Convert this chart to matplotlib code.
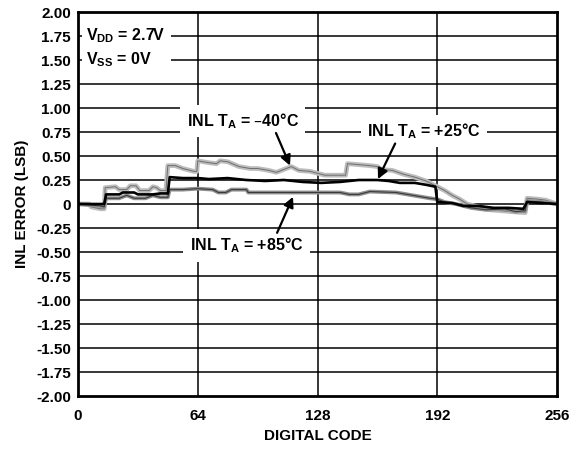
import numpy as np
import matplotlib.pyplot as plt

plt.rcParams['font.family'] = ['Liberation Sans', 'DejaVu Sans']
plt.rcParams['font.weight'] = 'bold'
plt.rcParams['mathtext.default'] = 'regular'

# INL curves (digital code, error in LSB)
code_m40 = [0, 6, 7, 12, 14, 14.5, 20, 22, 26, 28, 31, 33, 38, 40, 42, 44, 47, 48, 52, 56, 62, 63.5,
            64, 70, 74, 76, 80, 86, 92, 96, 102, 106, 110, 114, 118, 124, 128, 132, 143, 144, 150,
            156, 160, 162, 168, 174, 180, 186, 192, 196, 200, 204, 208, 214, 220, 226, 232, 239,
            240, 246, 250, 256]
inl_m40 = [0.0, 0.0, -0.03, -0.05, -0.05, 0.17, 0.18, 0.15, 0.15, 0.19, 0.19, 0.14, 0.14, 0.18, 0.17,
           0.14, 0.14, 0.40, 0.40, 0.37, 0.34, 0.34, 0.45, 0.43, 0.42, 0.45, 0.44, 0.39, 0.37, 0.37,
           0.35, 0.33, 0.36, 0.39, 0.35, 0.34, 0.32, 0.30, 0.30, 0.42, 0.41, 0.40, 0.39, 0.36, 0.35,
           0.31, 0.28, 0.24, 0.18, 0.14, 0.09, 0.05, 0.0, -0.03, -0.06, -0.07, -0.08, -0.09, 0.06,
           0.05, 0.04, 0.0]

code_25 = [0, 14, 15, 22, 24, 30, 32, 40, 44, 48, 49, 56, 64, 70, 80, 90, 100, 110, 120, 130, 140,
           150, 160, 166, 172, 180, 186, 191, 192, 200, 206, 214, 222, 230, 238, 240, 248, 256]
inl_25 = [0.0, 0.0, 0.10, 0.10, 0.12, 0.12, 0.10, 0.10, 0.11, 0.11, 0.28, 0.27, 0.27, 0.26, 0.27,
          0.25, 0.24, 0.25, 0.23, 0.22, 0.23, 0.25, 0.25, 0.24, 0.22, 0.22, 0.20, 0.18, 0.02, 0.01,
          -0.02, -0.02, -0.04, -0.04, -0.05, 0.02, 0.01, 0.0]

code_85 = [0, 12, 14, 15, 22, 26, 30, 36, 40, 44, 48, 49, 56, 64, 72, 75, 79, 82, 90, 91, 110, 130,
           140, 145, 150, 156, 170, 176, 182, 188, 192, 196, 202, 210, 218, 228, 234, 239, 240, 248, 256]
inl_85 = [0.0, -0.02, -0.03, 0.06, 0.06, 0.09, 0.06, 0.06, 0.09, 0.07, 0.07, 0.15, 0.15, 0.16, 0.15,
          0.12, 0.12, 0.15, 0.15, 0.12, 0.12, 0.12, 0.12, 0.10, 0.10, 0.13, 0.12, 0.10, 0.08, 0.06,
          0.05, 0.02, 0.0, -0.04, -0.06, -0.05, -0.08, -0.07, 0.03, 0.02, 0.0]

x_ticks = [0, 64, 128, 192, 256]
y_ticks = np.arange(-2.0, 2.01, 0.25)
y_labels = ['0' if abs(v) < 1e-9 else '%.2f' % v for v in y_ticks]

fig = plt.figure(figsize=(5.72, 4.5), dpi=100)
ax = fig.add_axes([0.1364, 0.12, 0.8374, 0.8533])

# grid
for v in y_ticks[1:-1]:
    ax.axhline(v, color='black', lw=1.1, zorder=1)
for v in x_ticks[1:-1]:
    ax.axvline(v, color='black', lw=1.1, zorder=1)

# curves
ax.plot(code_m40, inl_m40, color='#bdbdbd', lw=3.4, zorder=3)
ax.plot(code_m40, inl_m40, color='#6e6e6e', lw=0.7, zorder=3)
ax.plot(code_85, inl_85, color='#909090', lw=2.8, zorder=4)
ax.plot(code_85, inl_85, color='#3a3a3a', lw=0.8, zorder=4)
ax.plot(code_25, inl_25, color='black', lw=1.9, zorder=5)

box = dict(boxstyle='square,pad=0.4', fc='white', ec='none')
fs = 11.5

ax.text(4.5, 1.63, 'V$_{DD}$ = 2.7V \nV$_{SS}$ = 0V', ha='left', va='center', fontsize=fs,
        fontweight='bold', linespacing=1.4, zorder=6,
        bbox=dict(boxstyle='square,pad=0.3', fc='white', ec='none'))

arrow = dict(arrowstyle='-|>', color='black', lw=1.6, mutation_scale=15, shrinkA=0, shrinkB=0)

ax.text(88, 0.865, 'INL T$_A$ = \u201340\u00b0C', ha='center', va='center', fontsize=fs,
        fontweight='bold', zorder=6, bbox=box)
ax.annotate('', xy=(113.3, 0.40), xytext=(105.8, 0.74), arrowprops=arrow, zorder=7)

ax.text(185, 0.76, 'INL T$_A$ = +25\u00b0C', ha='center', va='center', fontsize=fs,
        fontweight='bold', zorder=6, bbox=box)
ax.annotate('', xy=(160.3, 0.26), xytext=(169.5, 0.63), arrowprops=arrow, zorder=7)

ax.text(90, -0.43, 'INL T$_A$ = +85\u00b0C', ha='center', va='center', fontsize=fs,
        fontweight='bold', zorder=6, bbox=box)
ax.annotate('', xy=(114.9, 0.075), xytext=(106.4, -0.30), arrowprops=arrow, zorder=7)

ax.set_xlim(0, 256)
ax.set_ylim(-2.0, 2.0)
ax.set_xticks(x_ticks)
ax.set_yticks(y_ticks)
ax.set_yticklabels(y_labels)
ax.tick_params(length=0, labelsize=11)
ax.tick_params(axis='x', pad=9)
ax.tick_params(axis='y', pad=5)
for lab in ax.get_xticklabels() + ax.get_yticklabels():
    lab.set_fontweight('bold')
for s in ax.spines.values():
    s.set_linewidth(2)
    s.set_zorder(8)

ax.set_xlabel('DIGITAL CODE', fontsize=11, fontweight='bold', labelpad=5)
ax.set_ylabel('INL ERROR (LSB)', fontsize=11, fontweight='bold', labelpad=5)

fig.savefig('out.png', dpi=100)
